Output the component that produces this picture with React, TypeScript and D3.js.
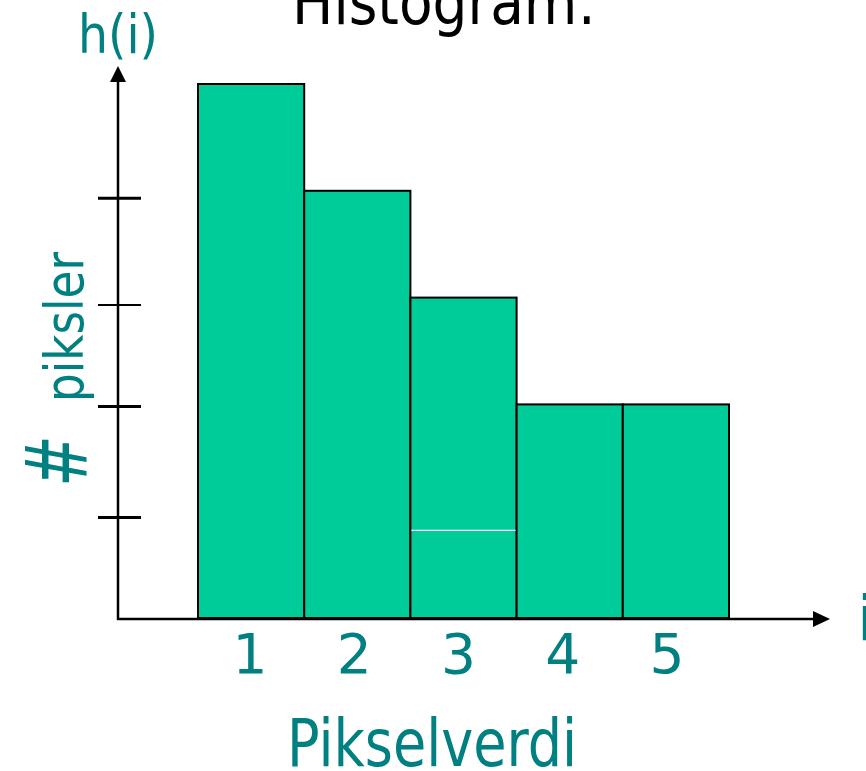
import React from "react";
import * as d3 from "d3";

const categories = ["1", "2", "3", "4", "5"];
const counts = [5, 4, 3, 2, 2];
const splitMarks = [null, null, 0.82, null, null];
const yTickValues = [0.94, 1.98, 2.93, 3.93];
const xLabelValues = [1, 2, 3, 4, 5];

const TEAL = "#008080";
const BAR = "#00CC99";
const FONT = "Tahoma, 'DejaVu Sans', Verdana, sans-serif";

export default function App() {
  const W = 866, H = 771;
  const x0 = 118, y0 = 619;
  const x = d3.scaleBand<string>().domain(categories).range([198, 729]).padding(0);
  const y = d3.scaleLinear().domain([0, 5]).range([618, 84]);
  const xl = d3.scaleLinear().domain([1, 5]).range([250, 667]);

  return (
    <svg width={W} height={H} style={{ position: "absolute", left: 0, top: 0, background: "#fff" }}>
      {/* title */}
      <text x={444} y={24} textAnchor="middle" fontFamily={FONT} fontSize={63} fill="#000" textLength={304} lengthAdjust="spacingAndGlyphs">Histogram:</text>
      {/* bars */}
      {counts.map((v, i) => (
        <rect key={i} x={x(categories[i])} y={y(v)} width={x.bandwidth()} height={y(0) - y(v)} fill={BAR} stroke="#000" strokeWidth={2} />
      ))}
      {splitMarks.map((s, i) => s == null ? null : (
        <line key={"s" + i} x1={(x(categories[i]) as number) + 1} x2={(x(categories[i]) as number) + x.bandwidth() - 1} y1={y(s)} y2={y(s)} stroke="#fff" strokeWidth={1.2} />
      ))}
      {/* axes */}
      <line x1={x0} y1={y0 + 1} x2={x0} y2={82} stroke="#000" strokeWidth={2.5} />
      <path d={`M${x0 - 8},82 L${x0},66 L${x0 + 8},82 Z`} fill="#000" />
      <line x1={x0 - 1} y1={y0} x2={813} y2={y0} stroke="#000" strokeWidth={2.5} />
      <path d={`M813,611 L830,619 L813,627 Z`} fill="#000" />
      {yTickValues.map((t, i) => (
        <line key={"t" + i} x1={x0 - 20} x2={x0 + 23} y1={y(t)} y2={y(t)} stroke="#000" strokeWidth={i === 2 ? 2 : 3} />
      ))}
      {/* x tick labels */}
      {xLabelValues.map((v, i) => (
        <text key={"l" + i} x={xl(v)} y={673} textAnchor="middle" fontFamily={FONT} fontSize={55} fill={TEAL}>{categories[i]}</text>
      ))}
      <text x={432} y={766} textAnchor="middle" fontFamily={FONT} fontSize={66} fill={TEAL} textLength={290} lengthAdjust="spacingAndGlyphs">Pikselverdi</text>
      <text x={857} y={640} fontFamily={FONT} fontSize={62} fill={TEAL}>i</text>
      {/* y labels */}
      <text x={78} y={53} fontFamily={FONT} fontSize={53} fill={TEAL} textLength={80} lengthAdjust="spacingAndGlyphs">h(i)</text>
      <text transform="translate(83,402) rotate(-90)" fontFamily={FONT} fontSize={53} fill={TEAL} textLength={150} lengthAdjust="spacingAndGlyphs">piksler</text>
      <text transform="translate(86,487) rotate(-90)" fontFamily={FONT} fontSize={86} fill={TEAL} textLength={52} lengthAdjust="spacingAndGlyphs">#</text>
    </svg>
  );
}
